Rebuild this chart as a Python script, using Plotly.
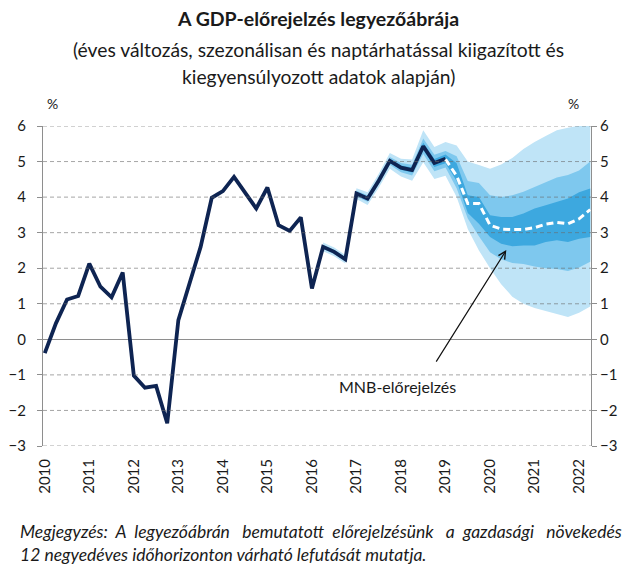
import plotly.graph_objects as go

# ---------------- data ----------------
year_labels = [str(y) for y in range(2010, 2023)]
year_ticks = [0, 4, 8, 12, 16, 20, 24, 28, 32, 36, 40, 44, 48]  # quarter index of Q1 of each year

hist_idx = list(range(0, 37))  # 2010Q1 .. 2019Q1
hist_vals = [-0.39, 0.45, 1.12, 1.22, 2.13, 1.48, 1.18, 1.88, -1.02, -1.36, -1.31, -2.36,
             0.54, 1.57, 2.6, 3.98, 4.17, 4.57, 4.13, 3.68, 4.27, 3.21, 3.05, 3.43,
             1.43, 2.6, 2.46, 2.25, 4.1, 3.96, 4.46, 5.02, 4.83, 4.76, 5.43, 4.96, 5.08]

fc_idx = list(range(36, 50))  # 2019Q1 .. 2022Q2
fc_vals = [5.06, 4.6, 3.82, 3.82, 3.21, 3.1, 3.09, 3.09, 3.14, 3.24, 3.29, 3.25, 3.39, 3.65]

band_idx = list(range(25, 50))
light_hi = [2.72, 2.58, 2.37, 4.25, 4.14, 4.66, 5.24, 5.08, 5.06, 5.88, 5.41, 5.55,
            5.45, 5.0, 4.9, 4.8, 4.92, 5.1, 5.35, 5.55, 5.72, 5.88, 5.95, 6.02, 6.07]
light_lo = [2.48, 2.34, 2.13, 3.95, 3.78, 4.26, 4.8, 4.58, 4.46, 4.98, 4.51, 4.6,
            4.0, 3.1, 2.5, 2.0, 1.55, 1.2, 1.0, 0.88, 0.8, 0.72, 0.63, 0.75, 0.92]
mid_hi = [2.66, 2.52, 2.31, 4.18, 4.05, 4.56, 5.13, 4.96, 4.91, 5.65, 5.19, 5.3,
          5.15, 4.45, 4.4, 4.05, 4.0, 4.05, 4.15, 4.28, 4.43, 4.55, 4.62, 4.75, 5.0]
mid_lo = [2.54, 2.4, 2.19, 4.02, 3.87, 4.36, 4.91, 4.7, 4.61, 5.21, 4.73, 4.83,
          4.25, 3.4, 2.9, 2.45, 2.25, 2.15, 2.12, 2.05, 2.0, 1.98, 1.92, 2.02, 2.18]
dark_hi = [2.62, 2.48, 2.27, 4.13, 3.99, 4.5, 5.07, 4.89, 4.83, 5.53, 5.07, 5.2,
           4.95, 4.05, 4.0, 3.49, 3.44, 3.44, 3.54, 3.68, 3.77, 3.86, 3.96, 4.14, 4.24]
dark_lo = [2.58, 2.44, 2.23, 4.07, 3.93, 4.42, 4.97, 4.77, 4.69, 5.33, 4.85, 4.95,
           4.45, 3.55, 3.25, 2.88, 2.69, 2.62, 2.64, 2.64, 2.74, 2.79, 2.74, 2.83, 2.88]

y_ticks = [-3, -2, -1, 0, 1, 2, 3, 4, 5, 6]

FONT = "Lato"
LIGHT = "#BFE4F7"
MID = "#7EC8EE"
DARK = "#3DA8DF"
NAVY = "#0E2452"
GRID = "rgba(105,105,105,0.6)"
AXIS = "#8E8E8E"
TXT = "#1a1a1a"

fig = go.Figure()

for hi, lo, col in [(light_hi, light_lo, LIGHT), (mid_hi, mid_lo, MID), (dark_hi, dark_lo, DARK)]:
    fig.add_trace(go.Scatter(
        x=band_idx + band_idx[::-1], y=hi + lo[::-1],
        fill="toself", fillcolor=col, mode="lines", line=dict(width=0, color=col),
        hoverinfo="skip", showlegend=False))

fig.add_trace(go.Scatter(x=hist_idx, y=hist_vals, mode="lines",
                         line=dict(color=NAVY, width=3.8), showlegend=False))
fig.add_trace(go.Scatter(x=fc_idx, y=fc_vals, mode="lines",
                         line=dict(color="white", width=3, dash="7px,4px"), showlegend=False))
# dummy trace for right axis
fig.add_trace(go.Scatter(x=[None], y=[None], yaxis="y2", showlegend=False))

# dashed gridlines drawn above the fan (as in the original)
for v in y_ticks:
    if v != 0:
        fig.add_shape(type="line", xref="paper", yref="y", x0=0, x1=1, y0=v, y1=v,
                      line=dict(color=GRID, width=1, dash="4px,3px"), layer="above")

xr = [-0.16, 49.07]
fig.update_layout(
    width=640, height=588,
    margin=dict(l=43, r=49, t=126, b=142, autoexpand=False),
    paper_bgcolor="white", plot_bgcolor="white",
    font=dict(family=FONT, size=15, color=TXT),
    xaxis=dict(range=xr, tickvals=year_ticks, ticktext=year_labels, tickangle=-90,
               showgrid=False, zeroline=False, showline=False, ticks="", automargin=False,
               ticklabelstandoff=9, tickfont=dict(size=15)),
    xaxis2=dict(range=xr, overlaying="x", anchor="free", position=1/3, automargin=False,
                tickvals=year_ticks, showticklabels=False, ticks="outside",
                ticklen=5, tickcolor=AXIS, showgrid=False, zeroline=False, showline=False),
    yaxis=dict(range=[-3, 6], tickvals=y_ticks, showgrid=False,
               zeroline=True, zerolinecolor=AXIS,
               zerolinewidth=1, showline=True, linecolor=AXIS, linewidth=1, mirror=True,
               ticks="outside", ticklen=5, tickcolor=AXIS, ticklabelstandoff=8,
               automargin=False, tickfont=dict(size=15)),
    yaxis2=dict(range=[-3, 6], tickvals=y_ticks, overlaying="y", side="right",
                showgrid=False, zeroline=False, showline=False, ticks="outside",
                automargin=False, ticklen=5, tickcolor=AXIS, tickfont=dict(size=15)),
)

def px(x):
    return (x - 43) / 548

def py(y):
    return (446 - y) / 320

ann = [
    dict(text="<b>A GDP-előrejelzés legyezőábrája</b>", x=px(318), y=py(18), size=19.5),
    dict(text="(éves változás, szezonálisan és naptárhatással kiigazított és", x=px(318), y=py(50), size=19.3),
    dict(text="kiegyensúlyozott adatok alapján)", x=px(318), y=py(76), size=19.3),
    dict(text="%", x=px(52), y=py(103), size=14),
    dict(text="%", x=px(573), y=py(103), size=14),
]
for a in ann:
    fig.add_annotation(text=a["text"], x=a["x"], y=a["y"], xref="paper", yref="paper",
                       showarrow=False, xanchor="center", yanchor="middle",
                       font=dict(family=FONT, size=a["size"], color=TXT))

note1 = "Megjegyzés:  A  legyezőábrán   bemutatott  előrejelzésünk   a  gazdasági   növekedés"
note2 = "12 negyedéves időhorizonton várható lefutását mutatja."
fig.add_annotation(text="<i>" + note1 + "<br>" + note2 + "</i>",
                   x=px(18), y=py(543), xref="paper", yref="paper", showarrow=False,
                   xanchor="left", yanchor="middle", align="left",
                   font=dict(family=FONT, size=17.5, color=TXT))

fig.add_annotation(text="MNB-előrejelzés", x=31.67, y=-1.34, xref="x", yref="y",
                   showarrow=False, xanchor="center", yanchor="middle",
                   font=dict(family=FONT, size=16, color=TXT))
fig.add_annotation(text="", x=41.46, y=2.51, ax=35.08, ay=-0.67, xref="x", yref="y",
                   axref="x", ayref="y", showarrow=True, arrowhead=5, arrowsize=1.2,
                   arrowwidth=1.2, arrowcolor="#111111")

fig.write_html("out.html", config={"displayModeBar": False},
               post_script="document.body.style.margin='0';")
